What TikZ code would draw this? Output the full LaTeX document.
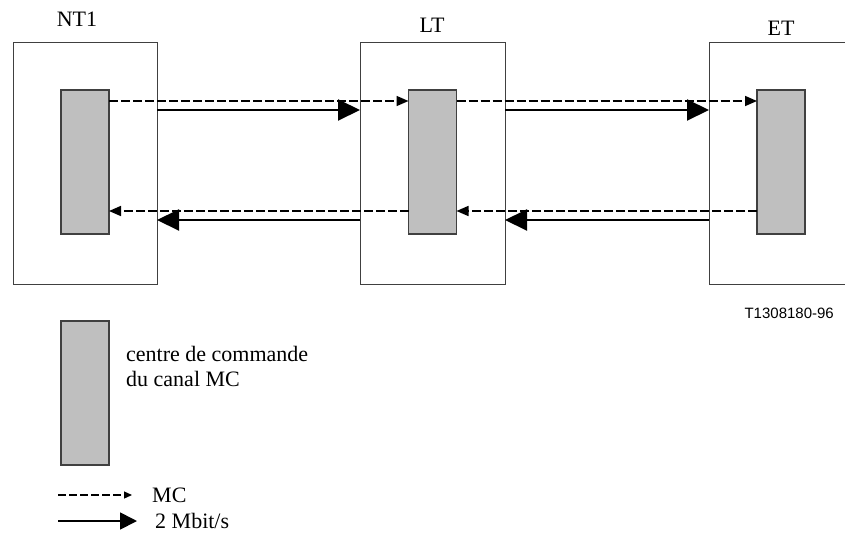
\documentclass[tikz,border=0pt]{standalone}
\usepackage{fontspec}
\setmainfont{Liberation Serif}
\newfontfamily\tagfont{Liberation Sans}
\usepackage{tikz}
\usetikzlibrary{arrows.meta,positioning}

\begin{document}
\begin{tikzpicture}[x=1pt, y=-1pt,
    unit/.style={draw=black!75, line width=1pt, inner sep=0pt, outer sep=0pt},
    ctl/.style={draw=black!75, fill=black!25, line width=1.3pt, inner sep=0pt, outer sep=0pt,
                minimum width=48pt, minimum height=144pt},
    lbl/.style={font=\fontsize{22}{25}\selectfont, inner sep=0pt},
    mc/.style={line width=1.6pt, dash pattern=on 9pt off 3pt, -{Triangle[length=12pt,width=10pt]}},
    mbit/.style={line width=2pt, -{Triangle[length=22pt,width=21pt]}}
  ]
  \useasboundingbox (0,0) rectangle (845,541);

  % equipment
  \node[unit, minimum width=144pt, minimum height=242pt] (nt1) at (85,163) {};
  \node[unit, minimum width=145pt, minimum height=242pt] (lt) at (432.5,163) {};
  \node[unit, minimum width=161pt, minimum height=242pt] (et) at (789.5,163) {};
  \node[lbl] (nt1name) at (77,19) {NT1};
  \node[lbl] (ltname) at (432,25) {LT};
  \node[lbl] (etname) at (781,28) {ET};

  % MC channel control centres
  \node[ctl] (nt1ctl) at (85,162) {};
  \node[ctl] (ltctl) at (432.5,162) {};
  \node[ctl] (etctl) at (781,162) {};

  % forward direction
  \draw[mc] ([yshift=-11pt]nt1ctl.north east) -- ([yshift=-11pt]ltctl.north west);
  \draw[mc] ([yshift=-11pt]ltctl.north east) -- ([yshift=-11pt]etctl.north west);
  \draw[mbit] ([yshift=-68pt]nt1.north east) -- ([yshift=-68pt]lt.north west);
  \draw[mbit] ([yshift=-68pt]lt.north east) -- ([yshift=-68pt]et.north west);

  % backward direction
  \draw[mc] ([yshift=23pt]etctl.south west) -- ([yshift=23pt]ltctl.south east);
  \draw[mc] ([yshift=23pt]ltctl.south west) -- ([yshift=23pt]nt1ctl.south east);
  \draw[mbit] ([yshift=64pt]et.south west) -- ([yshift=64pt]lt.south east);
  \draw[mbit] ([yshift=64pt]lt.south west) -- ([yshift=64pt]nt1.south east);

  \node[font=\tagfont\fontsize{15}{17}\selectfont, anchor=east, inner sep=0pt] (tag) at (834,313) {T1308180-96};

  % key
  \node[ctl] (keyctl) at (85,393) {};
  \node[lbl, align=left, anchor=west] (keytext) at (126,366) {centre de commande\\du canal MC};
  \node[lbl, anchor=west] (mclbl) at (152,495) {MC};
  \node[lbl, anchor=west] (mbitlbl) at (155,521) {2 Mbit/s};
  \coordinate (mcfrom) at (58,495);
  \coordinate (mbitfrom) at (58,521);
  \draw[line width=1.3pt, dash pattern=on 8pt off 3pt, -{Triangle[length=8pt,width=7pt]}]
    (mcfrom) -- ([xshift=-20pt]mclbl.west);
  \draw[line width=1.8pt, -{Triangle[length=17pt,width=17pt]}]
    (mbitfrom) -- ([xshift=-18pt]mbitlbl.west);
\end{tikzpicture}
\end{document}
